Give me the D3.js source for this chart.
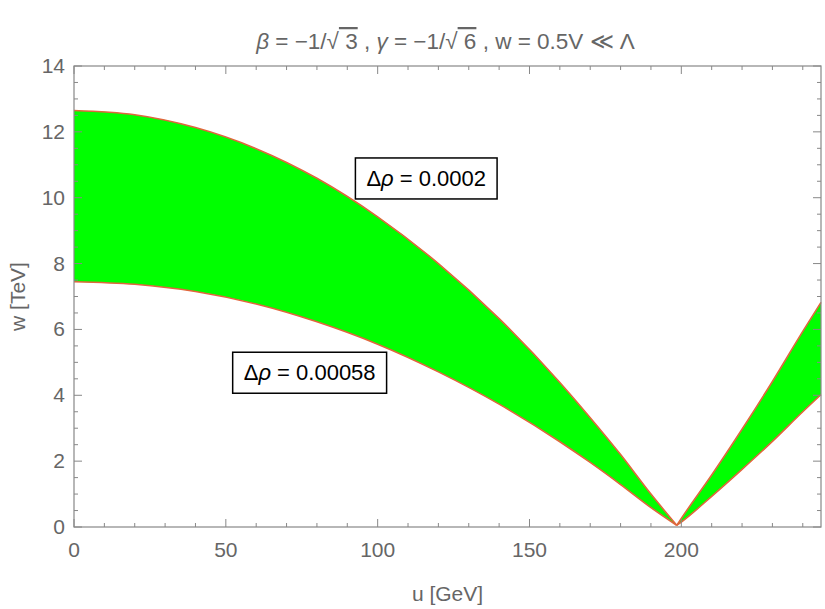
<!DOCTYPE html>
<meta charset="utf-8">
<style>
  body { margin: 0; background: #fff; }
  text { font-family: "Liberation Sans", Arial, sans-serif; }
  .frame { fill: none; stroke: #888; stroke-width: 1.2; }
  .tick line { stroke: #888; stroke-width: 1; }
  .ticklabel { fill: #666; font-size: 21px; }
  .title { fill: #666; font-size: 22.5px; }
  .band { fill: #00ff00; stroke: none; }
  .edge { fill: none; stroke: #e0663c; stroke-width: 1.6; }
  .note rect { fill: #fff; stroke: #000; stroke-width: 1.5; }
  .note text { fill: #000; font-size: 22px; }
</style>

<body>
  <script src="https://cdn.jsdelivr.net/npm/d3@7"></script>
  <script>

    var width = 825,
      height = 609,
      margin = { left: 74, right: 4, top: 66, bottom: 82 };

    // left branch (u < vertex) and right branch (u > vertex)
    var uLeft = [0, 20, 40, 60, 80, 100, 120, 140, 160, 170, 180, 190, 198.5];
    var wUpperLeft = [12.65, 12.52, 12.13, 11.49, 10.59, 9.42, 8.00, 6.33, 4.39, 3.32, 2.20, 1.00, 0.05];
    var wLowerLeft = [7.45, 7.37, 7.15, 6.77, 6.23, 5.55, 4.71, 3.73, 2.59, 1.96, 1.29, 0.59, 0.05];

    var uRight = [198.5, 200, 210, 220, 230, 240, 246];
    var wUpperRight = [0.05, 0.26, 1.58, 2.97, 4.42, 5.94, 6.82];
    var wLowerRight = [0.05, 0.15, 0.93, 1.75, 2.60, 3.50, 4.02];

    var xMajor = [0, 50, 100, 150, 200];
    var yMajor = [0, 2, 4, 6, 8, 10, 12, 14];

    var notes = [
      { u: 116, w: 10.6, label: "0.0002" },
      { u: 77.6, w: 4.7, label: "0.00058" }
    ];

    var x = d3.scaleLinear().domain([0, 246]).range([margin.left, width - margin.right]);
    var y = d3.scaleLinear().domain([0, 14]).range([height - margin.bottom, margin.top]);

    var svg = d3.select("body").append("svg")
      .attr("width", width)
      .attr("height", height);

    function band(us, lo, hi) {
      return us.map(function (u, i) { return { u: u, lo: lo[i], hi: hi[i] }; });
    }

    var area = d3.area()
      .x(function (d) { return x(d.u); })
      .y0(function (d) { return y(d.lo); })
      .y1(function (d) { return y(d.hi); })
      .curve(d3.curveMonotoneX);

    var line = d3.line()
      .x(function (d) { return x(d[0]); })
      .y(function (d) { return y(d[1]); })
      .curve(d3.curveMonotoneX);

    var g = svg.append("g");

    [band(uLeft, wLowerLeft, wUpperLeft), band(uRight, wLowerRight, wUpperRight)].forEach(function (b) {
      g.append("path").attr("class", "band").attr("d", area(b));
    });

    [[uLeft, wUpperLeft], [uLeft, wLowerLeft], [uRight, wUpperRight], [uRight, wLowerRight]].forEach(function (s) {
      g.append("path")
        .attr("class", "edge")
        .attr("d", line(s[0].map(function (u, i) { return [u, s[1][i]]; })));
    });

    // frame with inward ticks on all sides
    var x0 = x.range()[0], x1 = x.range()[1], y0 = y.range()[0], y1 = y.range()[1];
    svg.append("rect").attr("class", "frame")
      .attr("x", x0).attr("y", y1).attr("width", x1 - x0).attr("height", y0 - y1);

    var ticks = svg.append("g").attr("class", "tick");
    d3.range(0, 247, 10).forEach(function (v) {
      var len = v % 50 === 0 ? 8 : 4;
      ticks.append("line").attr("x1", x(v)).attr("x2", x(v)).attr("y1", y0).attr("y2", y0 - len);
      ticks.append("line").attr("x1", x(v)).attr("x2", x(v)).attr("y1", y1).attr("y2", y1 + len);
    });
    d3.range(0, 14.01, 0.5).forEach(function (v) {
      var len = v % 2 === 0 ? 8 : 4;
      ticks.append("line").attr("y1", y(v)).attr("y2", y(v)).attr("x1", x0).attr("x2", x0 + len);
      ticks.append("line").attr("y1", y(v)).attr("y2", y(v)).attr("x1", x1).attr("x2", x1 - len);
    });

    svg.selectAll(".xlab").data(xMajor).enter().append("text")
      .attr("class", "ticklabel")
      .attr("x", function (d) { return x(d); })
      .attr("y", y0 + 30)
      .attr("text-anchor", "middle")
      .text(function (d) { return d; });

    svg.selectAll(".ylab").data(yMajor).enter().append("text")
      .attr("class", "ticklabel")
      .attr("x", x0 - 9)
      .attr("y", function (d) { return y(d) + 7; })
      .attr("text-anchor", "end")
      .text(function (d) { return d; });

    svg.append("text").attr("class", "ticklabel")
      .attr("x", (x0 + x1) / 2).attr("y", 601)
      .attr("text-anchor", "middle")
      .text("u [GeV]");

    svg.append("text").attr("class", "ticklabel")
      .attr("transform", "translate(25," + ((y0 + y1) / 2) + ") rotate(-90)")
      .attr("text-anchor", "middle")
      .text("w [TeV]");

    // title
    var title = svg.append("text").attr("class", "title")
      .attr("x", (x0 + x1) / 2 - 2).attr("y", 49)
      .attr("text-anchor", "middle");
    title.append("tspan").style("font-style", "italic").text("β");
    title.append("tspan").text(" = \u22121/\u221A");
    title.append("tspan").style("text-decoration", "overline").text(" 3");
    title.append("tspan").text(" , ");
    title.append("tspan").style("font-style", "italic").text("γ");
    title.append("tspan").text(" = \u22121/\u221A");
    title.append("tspan").style("text-decoration", "overline").text(" 6");
    title.append("tspan").text(" , w = 0.5V \u226A \u039B");

    // annotation boxes
    notes.forEach(function (n) {
      var ng = svg.append("g").attr("class", "note");
      var t = ng.append("text")
        .attr("x", x(n.u)).attr("y", y(n.w) + 8)
        .attr("text-anchor", "middle");
      t.append("tspan").text("\u0394");
      t.append("tspan").style("font-style", "italic").text("\u03C1");
      t.append("tspan").text(" = " + n.label);
      var bb = t.node().getBBox();
      ng.insert("rect", "text")
        .attr("x", bb.x - 11).attr("y", bb.y - 8)
        .attr("width", bb.width + 22).attr("height", bb.height + 16);
    });

  </script>
</body>
